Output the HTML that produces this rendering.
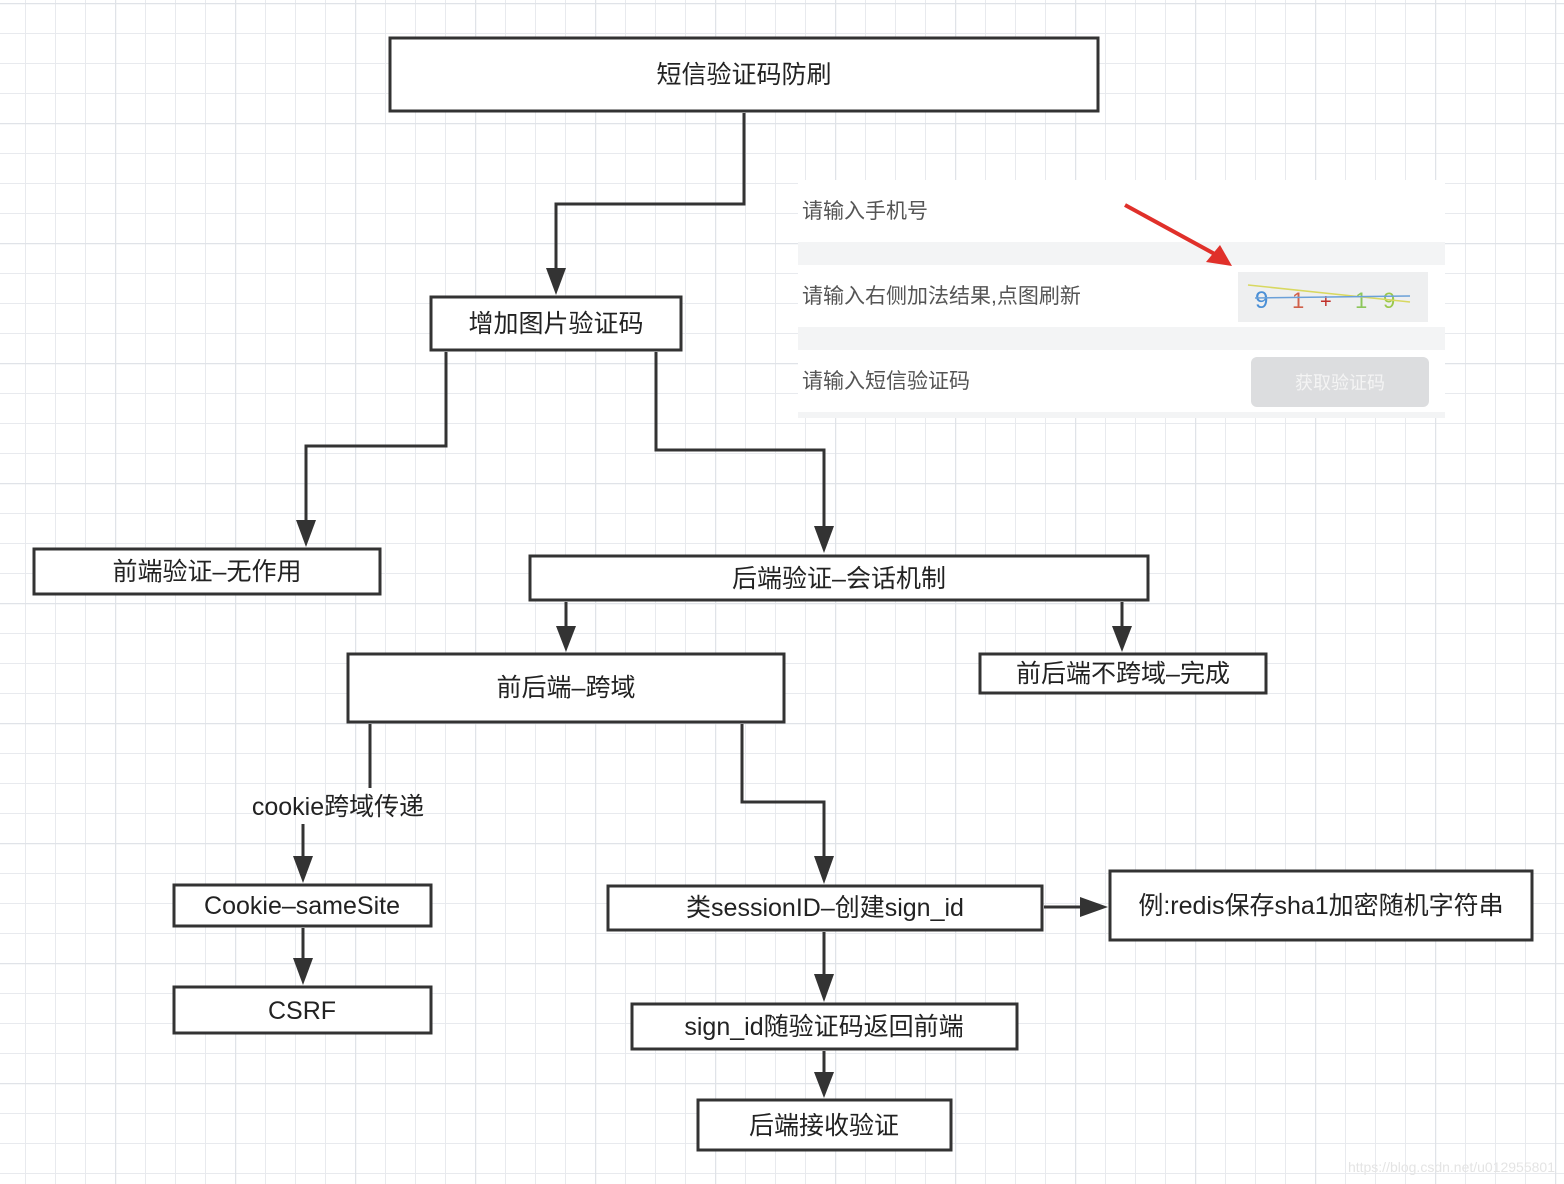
<!DOCTYPE html>
<html><head><meta charset="utf-8"><style>
html,body{margin:0;padding:0;background:#fff}
svg{display:block}
text{font-family:"Liberation Sans","Noto Sans CJK SC",sans-serif;fill:#222}
</style></head><body>
<svg width="1564" height="1184" xmlns="http://www.w3.org/2000/svg">
<defs>
<pattern id="g" x="25" y="3" width="30" height="30" patternUnits="userSpaceOnUse">
<path d="M0 0V30M0 0H30" stroke="#e8eaee" stroke-width="2" fill="none"/>
</pattern>
<pattern id="g2" x="115" y="3" width="120" height="120" patternUnits="userSpaceOnUse">
<path d="M0 0V120M0 0H120" stroke="#e0e3e8" stroke-width="2.5" fill="none"/>
</pattern>
</defs>
<rect width="1564" height="1184" fill="url(#g)"/>
<rect width="1564" height="1184" fill="url(#g2)"/>

<!-- screenshot panel -->
<rect x="798" y="180" width="647" height="238" fill="#fff"/>
<rect x="798" y="242" width="647" height="23" fill="#f3f4f5"/>
<rect x="798" y="327" width="647" height="23" fill="#f3f4f5"/>
<rect x="798" y="412" width="647" height="6" fill="#f3f4f5"/>
<text x="802" y="218" font-size="21" style="fill:#555">请输入手机号</text>
<text x="802" y="303" font-size="21" style="fill:#555">请输入右侧加法结果,点图刷新</text>
<text x="802" y="388" font-size="21" style="fill:#555">请输入短信验证码</text>
<rect x="1238" y="272" width="190" height="50" fill="#eeeff0"/>
<text x="1255" y="308" font-size="24" style="fill:#4a8fd6">9</text>
<text x="1292" y="308" font-size="22" style="fill:#d0604a">1</text>
<text x="1320" y="308" font-size="20" style="fill:#c0302a">+</text>
<text x="1355" y="308" font-size="22" style="fill:#8cc65a">1</text>
<text x="1383" y="308" font-size="22" style="fill:#9ac84a">9</text>
<path d="M1248 285 L1410 302" stroke="#d8d860" stroke-width="1.5"/>
<path d="M1255 298 L1410 296" stroke="#6aa0d8" stroke-width="1.5"/>
<rect x="1251" y="357" width="178" height="50" rx="6" fill="#dcdddf"/>
<text x="1340" y="389" font-size="18" text-anchor="middle" style="fill:#f4f4f4">获取验证码</text>
<path d="M1125 205 L1222 258" stroke="#e0302a" stroke-width="4"/>
<path d="M1232 266 L1206 262 L1220 245 Z" fill="#e0302a"/>

<g stroke="#333" stroke-width="3" fill="none">
<rect x="390" y="38" width="708" height="73" fill="#fff"/>
<rect x="431" y="297" width="250" height="53" fill="#fff"/>
<rect x="34" y="549" width="346" height="45" fill="#fff"/>
<rect x="530" y="556" width="618" height="44" fill="#fff"/>
<rect x="348" y="654" width="436" height="68" fill="#fff"/>
<rect x="980" y="654" width="286" height="39" fill="#fff"/>
<rect x="174" y="885" width="257" height="41" fill="#fff"/>
<rect x="174" y="987" width="257" height="46" fill="#fff"/>
<rect x="608" y="886" width="434" height="44" fill="#fff"/>
<rect x="1110" y="871" width="422" height="69" fill="#fff"/>
<rect x="632" y="1004" width="385" height="45" fill="#fff"/>
<rect x="698" y="1100" width="253" height="50" fill="#fff"/>
<path d="M744 113 V204 H556 V270"/>
<path d="M446 352 V446 H306 V522"/>
<path d="M656 352 V450 H824 V528"/>
<path d="M566 602 V628"/>
<path d="M1122 602 V628"/>
<path d="M370 724 V788"/>
<path d="M303 824 V858"/>
<path d="M742 724 V802 H824 V858"/>
<path d="M303 928 V960"/>
<path d="M824 932 V976"/>
<path d="M1044 907 H1082"/>
<path d="M824 1051 V1074"/>
</g>
<g fill="#333">
<path d="M546 268 H566 L556 295 Z"/>
<path d="M296 520 H316 L306 547 Z"/>
<path d="M814 526 H834 L824 553 Z"/>
<path d="M556 626 H576 L566 652 Z"/>
<path d="M1112 626 H1132 L1122 652 Z"/>
<path d="M293 856 H313 L303 883 Z"/>
<path d="M293 958 H313 L303 985 Z"/>
<path d="M814 856 H834 L824 884 Z"/>
<path d="M814 974 H834 L824 1002 Z"/>
<path d="M814 1072 H834 L824 1098 Z"/>
<path d="M1080 897 V917 L1108 907 Z"/>
</g>
<g font-size="25" text-anchor="middle">
<text x="744" y="83">短信验证码防刷</text>
<text x="556" y="332">增加图片验证码</text>
<text x="207" y="580">前端验证–无作用</text>
<text x="839" y="587">后端验证–会话机制</text>
<text x="566" y="696">前后端–跨域</text>
<text x="1123" y="682">前后端不跨域–完成</text>
<text x="338" y="815">cookie跨域传递</text>
<text x="302" y="914">Cookie–sameSite</text>
<text x="302" y="1019">CSRF</text>
<text x="825" y="916">类sessionID–创建sign_id</text>
<text x="1321" y="914">例:redis保存sha1加密随机字符串</text>
<text x="824" y="1035">sign_id随验证码返回前端</text>
<text x="824" y="1134">后端接收验证</text>
</g>
<text x="1555" y="1172" font-size="14" text-anchor="end" style="fill:#e4e4e4">https://blog.csdn.net/u012955801</text>
</svg>
</body></html>
